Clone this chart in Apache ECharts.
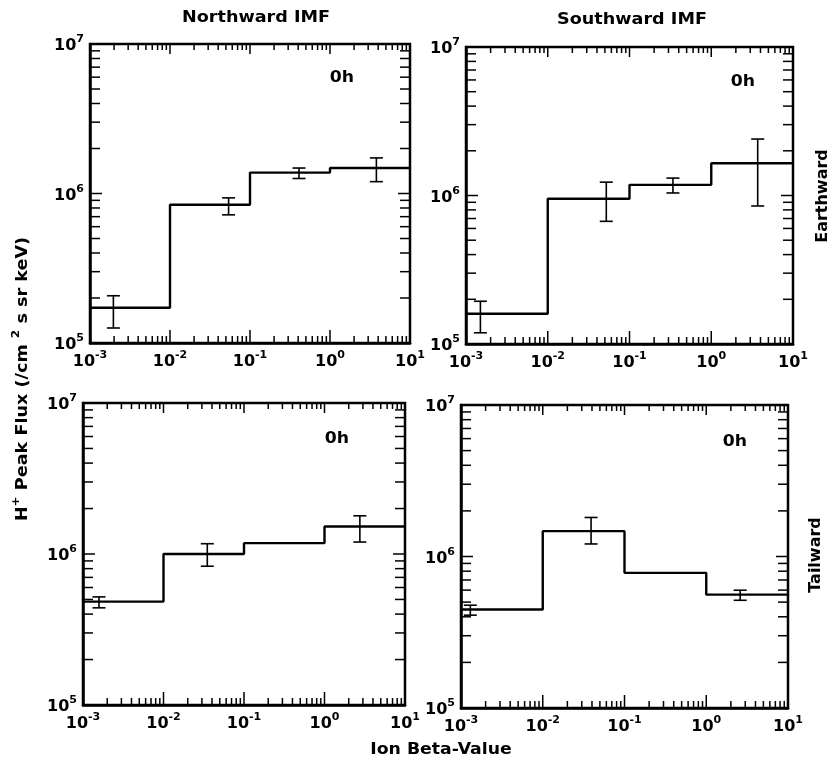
<!DOCTYPE html>
<html><head><meta charset="utf-8">
<script src="https://cdn.jsdelivr.net/npm/echarts@6/dist/echarts.min.js"></script>
<style>html,body{margin:0;padding:0;background:#fff}#c{width:838px;height:761px}</style>
</head><body><div id="c"></div>
<script>
// ---- axis ranges / ticks ----
const xMin = 0.001, xMax = 10, yMin = 1e5, yMax = 1e7;
const binEdges = [0.001, 0.01, 0.1, 1, 10];
const minorMantissas = [2, 3, 4, 5, 6, 7, 8, 9];
const xDecades = [0.001, 0.01, 0.1, 1];
const yDecades = [1e5, 1e6];
const xMajorInner = [0.01, 0.1, 1];
const yMajorInner = [1e6];

// ---- texts ----
const columnTitles = ['Northward IMF', 'Southward IMF'];
const rowTitles = ['Earthward', 'Tailward'];
const timeLabel = '0h';
const xTitle = 'Ion Beta-Value';

// ---- data: Northward IMF, Earthward ----
const nEarthLevels = [1.72e5, 8.4e5, 1.38e6, 1.48e6];
const nEarthErrX   = [0.00196, 0.054, 0.41, 3.8];
const nEarthErrLo  = [1.26e5, 7.2e5, 1.26e6, 1.2e6];
const nEarthErrHi  = [2.07e5, 9.35e5, 1.48e6, 1.73e6];
// ---- data: Southward IMF, Earthward ----
const sEarthLevels = [1.6e5, 9.5e5, 1.18e6, 1.65e6];
const sEarthErrX   = [0.0015, 0.052, 0.34, 3.7];
const sEarthErrLo  = [1.19e5, 6.7e5, 1.04e6, 8.5e5];
const sEarthErrHi  = [1.94e5, 1.23e6, 1.31e6, 2.4e6];
// ---- data: Northward IMF, Tailward ----
const nTailLevels = [4.84e5, 1.0e6, 1.18e6, 1.52e6];
const nTailErrX   = [0.00158, 0.035, 2.75];
const nTailErrLo  = [4.4e5, 8.3e5, 1.2e6];
const nTailErrHi  = [5.2e5, 1.17e6, 1.79e6];
// ---- data: Southward IMF, Tailward ----
const sTailLevels = [4.47e5, 1.47e6, 7.8e5, 5.6e5];
const sTailErrX   = [0.0013, 0.039, 2.6];
const sTailErrLo  = [4.1e5, 1.21e6, 5.14e5];
const sTailErrHi  = [4.77e5, 1.81e6, 5.99e5];

const panels = [
  {levels: nEarthLevels, ex: nEarthErrX, lo: nEarthErrLo, hi: nEarthErrHi, grid: {left: 90, top: 44, width: 320, height: 299}},
  {levels: sEarthLevels, ex: sEarthErrX, lo: sEarthErrLo, hi: sEarthErrHi, grid: {left: 466, top: 47, width: 327, height: 297}},
  {levels: nTailLevels,  ex: nTailErrX,  lo: nTailErrLo,  hi: nTailErrHi,  grid: {left: 83, top: 403, width: 322, height: 302}},
  {levels: sTailLevels,  ex: sTailErrX,  lo: sTailErrLo,  hi: sTailErrHi,  grid: {left: 461, top: 405, width: 327, height: 303}}
];

const FONT = '"DejaVu Sans", "Liberation Sans", sans-serif';
const labelRich = {
  b: {fontFamily: FONT, fontWeight: 'bold', fontSize: 16, color: '#000', lineHeight: 20, verticalAlign: 'bottom'},
  s: {fontFamily: FONT, fontWeight: 'bold', fontSize: 11, color: '#000', lineHeight: 11, verticalAlign: 'top'}
};
function expFormatter(v) {
  return '{b|10}{s|' + Math.round(Math.log10(v)) + '}';
}

const grids = [], xAxes = [], yAxes = [], series = [];
panels.forEach((p, i) => {
  grids.push(Object.assign({show: true, borderColor: '#000', borderWidth: 2.5, backgroundColor: 'transparent'}, p.grid));
  xAxes.push({
    type: 'log', logBase: 10, gridIndex: i, min: xMin, max: xMax, interval: 1,
    axisLine: {show: true, lineStyle: {color: '#000', width: 2.5}},
    axisTick: {show: false}, splitLine: {show: false}, minorTick: {show: false},
    axisLabel: {margin: 7, formatter: expFormatter, rich: labelRich, color: '#000'}
  });
  yAxes.push({
    type: 'log', logBase: 10, gridIndex: i, min: yMin, max: yMax, interval: 1,
    axisLine: {show: true, lineStyle: {color: '#000', width: 2.5}},
    axisTick: {show: false}, splitLine: {show: false}, minorTick: {show: false},
    axisLabel: {margin: 6, formatter: expFormatter, rich: labelRich, color: '#000'}
  });
  const stepData = p.levels.map((v, k) => [binEdges[k], v]);
  stepData.push([binEdges[binEdges.length - 1], p.levels[p.levels.length - 1]]);
  series.push({
    type: 'line', xAxisIndex: i, yAxisIndex: i, step: 'end', data: stepData,
    symbol: 'none', lineStyle: {color: '#000', width: 2.4}, silent: true, z: 3
  });
  series.push({
    type: 'custom', xAxisIndex: i, yAxisIndex: i, silent: true, z: 4,
    data: p.ex.map((x, k) => [x, p.lo[k], p.hi[k]]),
    encode: {x: 0, y: [1, 2]},
    renderItem: (params, api) => {
      const x = api.value(0);
      const a = api.coord([x, api.value(1)]), b = api.coord([x, api.value(2)]);
      const hw = 6.5, st = {stroke: '#000', lineWidth: 1.6};
      return {type: 'group', children: [
        {type: 'line', shape: {x1: a[0], y1: a[1], x2: b[0], y2: b[1]}, style: st},
        {type: 'line', shape: {x1: a[0] - hw, y1: a[1], x2: a[0] + hw, y2: a[1]}, style: st},
        {type: 'line', shape: {x1: b[0] - hw, y1: b[1], x2: b[0] + hw, y2: b[1]}, style: st}
      ]};
    }
  });
});

const chart = echarts.init(document.getElementById('c'), null, {renderer: 'canvas'});
chart.setOption({
  animation: false,
  backgroundColor: '#fff',
  grid: grids, xAxis: xAxes, yAxis: yAxes, series: series
});

// ---- frame ticks, positioned through each grid's own log scales ----
const xMinorVals = [], yMinorVals = [];
xDecades.forEach(d => minorMantissas.forEach(m => xMinorVals.push(d * m)));
yDecades.forEach(d => minorMantissas.forEach(m => yMinorVals.push(d * m)));
const tickStyle = {stroke: '#000', lineWidth: 1.5};
const tickGraphics = [];
function addLine(x1, y1, x2, y2) {
  if ([x1, y1, x2, y2].some(v => !isFinite(v))) return;
  tickGraphics.push({type: 'line', silent: true, z: 5,
    shape: {x1: x1, y1: y1, x2: x2, y2: y2}, style: tickStyle});
}
panels.forEach((p, i) => {
  const toPx = (x, y) => chart.convertToPixel({gridIndex: i}, [x, y]);
  const xTick = (v, lb, lt) => {
    const b = toPx(v, yMin), t = toPx(v, yMax);
    addLine(b[0], b[1], b[0], b[1] - lb);
    addLine(t[0], t[1], t[0], t[1] + lt);
  };
  const yTick = (v, len) => {
    const l = toPx(xMin, v), r = toPx(xMax, v);
    addLine(l[0], l[1], l[0] + len, l[1]);
    addLine(r[0], r[1], r[0] - len, r[1]);
  };
  xMinorVals.forEach(v => xTick(v, 7, 6));
  xMajorInner.forEach(v => xTick(v, 13, 10));
  yMinorVals.forEach(v => yTick(v, 10));
  yMajorInner.forEach(v => yTick(v, 12));
});

function txt(text, x, y, size, opts) {
  return Object.assign({
    type: 'text', x: x, y: y, silent: true, z: 10,
    style: {text: text, font: 'bold ' + size + 'px ' + FONT, fill: '#000',
            align: 'center', verticalAlign: 'middle', textAlign: 'center', textVerticalAlign: 'middle'}
  }, opts || {});
}
const titleRich = {
  b: {fontFamily: FONT, fontWeight: 'bold', fontSize: 16, fill: '#000', color: '#000', lineHeight: 20, verticalAlign: 'bottom'},
  s: {fontFamily: FONT, fontWeight: 'bold', fontSize: 11, fill: '#000', color: '#000', lineHeight: 14, verticalAlign: 'top'}
};
const textGraphics = [
  txt(columnTitles[0], 256, 18, 16, {scaleX: 1.1}),
  txt(columnTitles[1], 632, 20, 16, {scaleX: 1.1}),
  txt(timeLabel, 342, 78, 15, {scaleX: 1.15}),
  txt(timeLabel, 743, 82, 15, {scaleX: 1.15}),
  txt(timeLabel, 337, 439, 15, {scaleX: 1.15}),
  txt(timeLabel, 735, 442, 15, {scaleX: 1.15}),
  txt(rowTitles[0], 823, 196, 16, {rotation: Math.PI / 2}),
  txt(rowTitles[1], 816, 555, 16, {rotation: Math.PI / 2}),
  txt(xTitle, 441, 750, 16, {scaleX: 1.08}),
  {
    type: 'text', x: 21, y: 379, rotation: Math.PI / 2, scaleX: 1.1, silent: true, z: 10,
    style: {text: '{b|H}{s|+}{b| Peak Flux (/cm }{s|2}{b| s sr keV)}', rich: titleRich,
            align: 'center', verticalAlign: 'middle', textAlign: 'center', textVerticalAlign: 'middle', fill: '#000'}
  }
];

chart.setOption({graphic: tickGraphics.concat(textGraphics)});
</script></body></html>
